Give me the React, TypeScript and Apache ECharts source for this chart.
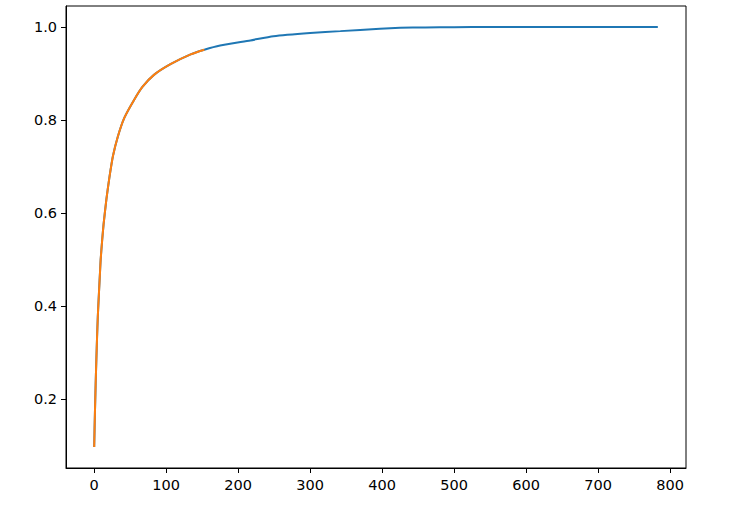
import * as echarts from 'echarts';
import type { ECharts, EChartsOption } from 'echarts';
import React, { useEffect, useRef } from 'react';

// cumulative explained variance: [component index, ratio]
const allComponents: [number, number][] = [
  [0, 0.097], [1, 0.168], [2, 0.23], [3, 0.284], [4, 0.333], [5, 0.376],
  [6, 0.409], [7, 0.44], [8, 0.47], [9, 0.5], [11, 0.54], [13, 0.575],
  [17, 0.63], [21, 0.675], [26, 0.722], [33, 0.765], [42, 0.805],
  [55, 0.842], [67, 0.871], [83, 0.897], [106, 0.92], [134, 0.941],
  [153, 0.951], [175, 0.96], [217, 0.971], [249, 0.98], [300, 0.987],
  [342, 0.991], [397, 0.996], [425, 0.998], [460, 0.999], [500, 0.9995],
  [550, 0.9998], [600, 1.0], [700, 1.0], [783, 1.0],
];
const cutoff = 153;
const keptComponents = allComponents.filter(([x]) => x <= cutoff);

const xTicks = [0, 100, 200, 300, 400, 500, 600, 700, 800];
const yTicks = [0.2, 0.4, 0.6, 0.8, 1.0];

const axisText = { color: '#000', fontFamily: 'DejaVu Sans', fontSize: 14.5 };

const App: React.FC = () => {
  const chartRef = useRef<HTMLDivElement>(null);
  const chartInstance = useRef<ECharts | null>(null);

  useEffect(() => {
    document.body.style.margin = '0';
    if (chartRef.current) {
      chartInstance.current = echarts.init(chartRef.current, null, { renderer: 'svg' });

      const option: EChartsOption = {
        animation: false,
        grid: {
          left: 66,
          right: 43,
          top: 6,
          bottom: 47,
          show: true,
          borderColor: '#000',
          borderWidth: 1,
        },
        xAxis: {
          type: 'value',
          min: -39.15,
          max: 822.15,
          splitLine: { show: false },
          axisLine: { show: true, onZero: false, lineStyle: { color: '#000', width: 1 } },
          axisTick: { show: true, length: 5, customValues: xTicks, lineStyle: { color: '#000' } },
          axisLabel: { ...axisText, margin: 9, customValues: xTicks, formatter: (v: number) => String(v) },
        },
        yAxis: {
          type: 'value',
          min: 0.052,
          max: 1.045,
          splitLine: { show: false },
          axisLine: { show: true, onZero: false, lineStyle: { color: '#000', width: 1 } },
          axisTick: { show: true, length: 5, customValues: yTicks, lineStyle: { color: '#000' } },
          axisLabel: { ...axisText, margin: 9, customValues: yTicks, formatter: (v: number) => v.toFixed(1) },
        },
        series: [
          {
            type: 'line',
            data: allComponents,
            showSymbol: false,
            smooth: 0.2,
            lineStyle: { width: 2, color: '#1f77b4' },
          },
          {
            type: 'line',
            data: keptComponents,
            showSymbol: false,
            smooth: 0.2,
            lineStyle: { width: 2, color: '#ff7f0e' },
          },
        ],
      };

      chartInstance.current.setOption(option);
    }

    return () => {
      if (chartInstance.current) {
        chartInstance.current.dispose();
        chartInstance.current = null;
      }
    };
  }, []);

  return <div ref={chartRef} style={{ width: '729px', height: '515px' }} />;
};

export default App;
